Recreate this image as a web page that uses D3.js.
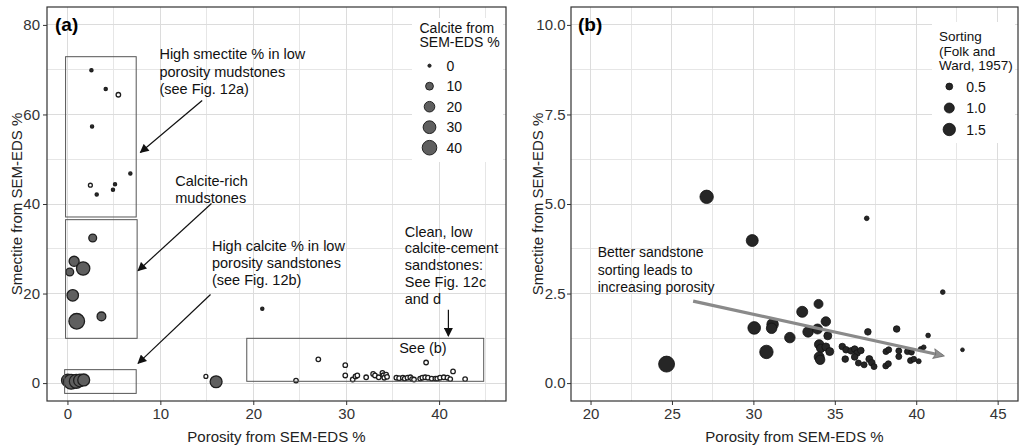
<!DOCTYPE html>
<html>
<head>
<meta charset="utf-8">
<script src="https://cdnjs.cloudflare.com/ajax/libs/d3/7.8.5/d3.min.js"></script>
<style>
  body { margin: 0; background: #fff; }
  svg { display: block; font-family: "Liberation Sans", Arial, sans-serif; }
  .grid line { stroke: #dcdcdc; shape-rendering: crispEdges; }
  .grid line.minor { stroke: #e6e6e6; }
  .axis text { font-size: 15px; fill: #333; }
  .axis line { stroke: #333; }
  .note { font-size: 14.5px; fill: #111; }
</style>
</head>
<body>
<div id="chart"></div>
<script>
// Panel (a): porosity vs smectite, sized by calcite (all from SEM-EDS, %)
var aPorosity = [2.58, 4.12, 5.48, 2.65, 6.77, 2.47, 5.12, 4.9, 3.15,
  2.72, 0.72, 1.69, 0.25, 0.57, 1.0, 3.66,
  0.05, 0.4, 0.95, 1.35, 1.75, 14.9, 16.0, 20.97,
  24.6, 27.0, 29.9, 29.9, 30.7, 31.0, 31.2, 32.15, 32.9, 33.1, 33.5, 33.9, 34.0, 34.1, 34.3, 34.4,
  35.4, 35.7, 36.1, 36.3, 36.6, 36.9, 37.1, 37.3, 37.96, 38.2, 38.5, 38.8, 38.6,
  39.2, 39.6, 39.8, 40.1, 40.5, 40.9, 41.2, 41.5, 42.8];
var aSmectite = [69.9, 65.7, 64.4, 57.3, 46.8, 44.2, 44.4, 43.2, 42.1,
  32.4, 27.2, 25.6, 24.8, 19.6, 13.8, 14.9,
  0.6, 0.3, 0.4, 0.6, 0.7, 1.5, 0.3, 16.6,
  0.56, 5.3, 4.0, 1.7, 0.8, 1.5, 1.7, 1.3, 2.05, 1.7, 1.3, 2.3, 1.75, 1.2, 1.9, 1.4,
  1.2, 1.1, 1.2, 1.0, 1.2, 1.3, 0.9, 0.8, 1.0, 1.2, 1.3, 1.2, 4.6,
  1.0, 1.0, 1.0, 1.2, 1.3, 1.2, 0.9, 2.6, 0.9];
var aCalcite = [0, 0, 2, 0, 0, 1, 0, 0, 0,
  10, 18, 33, 10, 24, 46, 13,
  30, 42, 36, 30, 26, 1, 26, 0,
  2, 2, 2, 2, 2, 2, 2, 2, 2, 2, 2, 2, 2, 2, 2, 2,
  2, 2, 2, 2, 2, 2, 2, 2, 2, 2, 2, 2, 2,
  2, 2, 2, 2, 2, 2, 2, 2, 2];
var calciteLegend = [0, 10, 20, 30, 40];

// Panel (b): sandstones only, sized by sorting (Folk and Ward, 1957)
var bPorosity = [24.67, 27.13, 29.93, 30.05, 30.8, 31.18, 31.12, 32.24, 33.0, 33.36,
  34.0, 33.94, 34.45, 34.57, 34.04, 34.14, 34.45, 34.69, 34.04, 34.1,
  35.46, 35.69, 36.0, 36.22, 36.37, 36.6, 35.64, 36.22, 37.03, 36.45,
  36.8, 37.12, 37.27, 37.41, 38.14, 38.31, 38.13, 38.29, 38.8, 38.93,
  38.93, 39.46, 39.71, 39.65, 39.85, 40.15, 40.28, 40.46, 40.73, 41.63, 42.84, 36.96];
var bSmectite = [0.53, 5.2, 3.98, 1.54, 0.87, 1.64, 1.53, 1.27, 1.99, 1.43,
  2.21, 1.51, 1.72, 1.32, 1.08, 0.97, 1.01, 0.88, 0.73, 0.65,
  1.02, 0.93, 0.9, 0.95, 0.84, 0.91, 0.67, 0.73, 1.43, 0.56,
  0.51, 0.67, 0.57, 0.46, 0.88, 0.93, 0.48, 0.54, 1.51, 0.9,
  0.74, 0.88, 0.86, 0.63, 0.67, 0.61, 0.95, 1.0, 1.33, 2.54, 0.93, 4.6];
var bSorting = [2.45, 1.75, 1.4, 1.55, 1.75, 1.3, 1.1, 1.1, 1.2, 1.1,
  0.82, 1.0, 0.9, 0.66, 0.9, 0.75, 0.66, 0.66, 1.0, 0.9,
  0.47, 0.47, 0.47, 0.47, 0.47, 0.47, 0.47, 0.47, 0.47, 0.4,
  0.4, 0.52, 0.47, 0.4, 0.4, 0.4, 0.4, 0.4, 0.47, 0.4,
  0.4, 0.4, 0.36, 0.4, 0.36, 0.3, 0.3, 0.27, 0.27, 0.27, 0.2, 0.27];
var sortingLegend = [0.5, 1.0, 1.5];

var W = 1021, H = 446;
var svg = d3.select('#chart').append('svg')
  .attr('width', W)
  .attr('height', H);

var defs = svg.append('defs');
defs.append('marker')
    .attr('id', 'head-black')
    .attr('markerUnits', 'userSpaceOnUse')
    .attr('viewBox', '0 0 10 10')
    .attr('refX', 9).attr('refY', 5)
    .attr('markerWidth', 10).attr('markerHeight', 9)
    .attr('orient', 'auto')
  .append('path')
    .attr('d', 'M0,0L10,5L0,10z')
    .attr('fill', '#111');
defs.append('marker')
    .attr('id', 'head-grey')
    .attr('markerUnits', 'userSpaceOnUse')
    .attr('viewBox', '0 0 10 10')
    .attr('refX', 8).attr('refY', 5)
    .attr('markerWidth', 14).attr('markerHeight', 11)
    .attr('orient', 'auto')
  .append('path')
    .attr('d', 'M0,0.5L10,5L0,9.5L2,5z')
    .attr('fill', '#8f8f8f')
    .attr('stroke', '#666')
    .attr('stroke-width', 0.6);

function panel(box, xDom, yDom, xMajor, xMinor, yMajor, yMinor, yFmt, yPad) {
  var x = d3.scaleLinear().domain(xDom).range([box.left, box.right]);
  var y = d3.scaleLinear().domain(yDom).range([box.bottom, box.top]);

  var grid = svg.append('g').attr('class', 'grid');
  grid.selectAll('.vmin').data(xMinor).enter().append('line')
      .attr('class', 'minor')
      .attr('x1', function(d) { return x(d); }).attr('x2', function(d) { return x(d); })
      .attr('y1', box.top).attr('y2', box.bottom);
  grid.selectAll('.hmin').data(yMinor).enter().append('line')
      .attr('class', 'minor')
      .attr('y1', function(d) { return y(d); }).attr('y2', function(d) { return y(d); })
      .attr('x1', box.left).attr('x2', box.right);
  grid.selectAll('.vmaj').data(xMajor).enter().append('line')
      .attr('x1', function(d) { return x(d); }).attr('x2', function(d) { return x(d); })
      .attr('y1', box.top).attr('y2', box.bottom);
  grid.selectAll('.hmaj').data(yMajor).enter().append('line')
      .attr('y1', function(d) { return y(d); }).attr('y2', function(d) { return y(d); })
      .attr('x1', box.left).attr('x2', box.right);

  var xAxis = d3.axisBottom(x).tickValues(xMajor).tickSize(4).tickPadding(3);
  var yAxis = d3.axisLeft(y).tickValues(yMajor).tickSize(4).tickPadding(yPad).tickFormat(yFmt);

  svg.append('g')
      .attr('class', 'axis')
      .attr('transform', 'translate(0,' + box.bottom + ')')
      .call(xAxis)
      .call(function(g) { g.select('.domain').remove(); });
  svg.append('g')
      .attr('class', 'axis')
      .attr('transform', 'translate(' + box.left + ',0)')
      .call(yAxis)
      .call(function(g) { g.select('.domain').remove(); });

  return {x: x, y: y};
}

function frame(box) {
  svg.append('rect')
      .attr('x', box.left).attr('y', box.top)
      .attr('width', box.right - box.left).attr('height', box.bottom - box.top)
      .attr('fill', 'none')
      .attr('stroke', '#333')
      .attr('stroke-width', 1.2);
}

function titles(box, xt, yt, yx) {
  svg.append('text')
      .attr('x', (box.left + box.right) / 2)
      .attr('y', 441.5)
      .attr('text-anchor', 'middle')
      .style('font-size', '15px')
      .style('fill', '#222')
      .text(xt);
  svg.append('text')
      .attr('transform', 'translate(' + yx + ',' + (box.top + box.bottom) / 2 + ') rotate(-90)')
      .attr('text-anchor', 'middle')
      .style('font-size', '15px')
      .style('fill', '#222')
      .text(yt);
}

function multiline(x, y, lines, lh, cls) {
  var t = svg.append('text').attr('class', cls || 'note');
  lines.forEach(function(l, i) {
    t.append('tspan').attr('x', x).attr('y', y + i * lh).text(l);
  });
  return t;
}

// ---------- panel (a)
var boxA = {left: 47, right: 506, top: 7, bottom: 401};
var a = panel(boxA, [-2.2, 47.2], [-4, 84],
  [0, 10, 20, 30, 40], [5, 15, 25, 35, 45],
  [0, 20, 40, 60, 80], [10, 30, 50, 70], d3.format('d'), 3);

var calciteSize = d3.scaleRadial().domain([0, 40]).range([1.6, 7.3]);
// calcite-free dots read dark, trace calcite as open rings, cemented as grey
var calciteFill = d3.scaleThreshold().domain([0.5, 5]).range(['#2a2a2a', '#fff', '#5f5f5f']);

// legend background covers the grid
svg.append('rect').attr('x', 412).attr('y', 18).attr('width', 91).attr('height', 144).attr('fill', '#fff');
multiline(419.5, 33, ['Calcite from', 'SEM-EDS %'], 14, 'note').style('font-size', '14px');
var legA = svg.append('g').selectAll('g').data(calciteLegend).enter().append('g')
    .attr('transform', function(d, i) { return 'translate(429.5,' + (65.7 + i * 20.5) + ')'; });
legA.append('circle')
    .attr('r', function(d) { return calciteSize(d); })
    .attr('fill', function(d) { return calciteFill(d); })
    .attr('stroke', '#222').attr('stroke-width', 1);
legA.append('text')
    .attr('x', 17).attr('dy', '0.36em')
    .style('font-size', '14px').style('fill', '#111')
    .text(function(d) { return d; });

var pointsA = aPorosity.map(function(p, i) {
  return {p: p, s: aSmectite[i], c: aCalcite[i]};
});
svg.append('g').selectAll('circle').data(pointsA).enter().append('circle')
    .attr('cx', function(d) { return a.x(d.p); })
    .attr('cy', function(d) { return a.y(d.s); })
    .attr('r', function(d) { return calciteSize(d.c); })
    .attr('fill', function(d) { return calciteFill(d.c); })
    .attr('stroke', '#1e1e1e')
    .attr('stroke-width', 1.3);

// boxes around groups
var groupBoxes = [
  {x0: -0.2, x1: 7.4, y0: 37.1, y1: 72.9},
  {x0: -0.2, x1: 7.5, y0: 10.0, y1: 36.5},
  {x0: -0.3, x1: 7.4, y0: -2.3, y1: 3.0},
  {x0: 19.3, x1: 44.8, y0: 0.4, y1: 10.0}
];
svg.append('g').selectAll('rect').data(groupBoxes).enter().append('rect')
    .attr('x', function(d) { return a.x(d.x0); })
    .attr('y', function(d) { return a.y(d.y1); })
    .attr('width', function(d) { return a.x(d.x1) - a.x(d.x0); })
    .attr('height', function(d) { return a.y(d.y0) - a.y(d.y1); })
    .attr('fill', 'none')
    .attr('stroke', '#555')
    .attr('stroke-width', 1);

var arrowsA = [
  {x0: 14.5, y0: 63.1, x1: 7.85, y1: 51.5},
  {x0: 15.5, y0: 40.1, x1: 7.6, y1: 25.1},
  {x0: 15.4, y0: 19.8, x1: 7.6, y1: 4.4},
  {x0: 41.0, y0: 16.4, x1: 41.0, y1: 10.5}
];
svg.append('g').selectAll('line').data(arrowsA).enter().append('line')
    .attr('x1', function(d) { return a.x(d.x0); })
    .attr('y1', function(d) { return a.y(d.y0); })
    .attr('x2', function(d) { return a.x(d.x1); })
    .attr('y2', function(d) { return a.y(d.y1); })
    .attr('stroke', '#111')
    .attr('stroke-width', 1.2)
    .attr('marker-end', 'url(#head-black)');

multiline(a.x(9.9), a.y(72.3), ['High smectite % in low', 'porosity mudstones', '(see Fig. 12a)'], 17.5);
multiline(a.x(11.6), a.y(44.1), ['Calcite-rich', 'mudstones'], 17);
multiline(a.x(15.55), a.y(29.4), ['High calcite % in low', 'porosity sandstones', '(see Fig. 12b)'], 17);
multiline(a.x(36.3), a.y(32.7), ['Clean, low', 'calcite-cement', 'sandstones:', 'See Fig. 12c', 'and d'], 16.8);
multiline(a.x(35.7), a.y(6.75), ['See (b)'], 17);

frame(boxA);
titles(boxA, 'Porosity from SEM-EDS %', 'Smectite from SEM-EDS %', 21.5);
svg.append('text')
    .attr('x', 55).attr('y', 31)
    .style('font-size', '19px').style('font-weight', 'bold')
    .text('(a)');

// ---------- panel (b)
var boxB = {left: 571, right: 1018, top: 7, bottom: 401};
var b = panel(boxB, [18.8, 46.25], [-0.5, 10.5],
  [20, 25, 30, 35, 40, 45], [22.5, 27.5, 32.5, 37.5, 42.5],
  [0, 2.5, 5, 7.5, 10], [1.25, 3.75, 6.25, 8.75], d3.format('.1f'), 1.5);

var sortSize = d3.scaleRadial().domain([0.2, 1.5]).range([1.9, 6.2]);

svg.append('rect').attr('x', 932).attr('y', 22).attr('width', 83).attr('height', 121).attr('fill', '#fff');
multiline(939, 41, ['Sorting', '(Folk and', 'Ward, 1957)'], 14.5, 'note').style('font-size', '13.5px');
var legB = svg.append('g').selectAll('g').data(sortingLegend).enter().append('g')
    .attr('transform', function(d, i) { return 'translate(949.3,' + (86.5 + i * 21.5) + ')'; });
legB.append('circle')
    .attr('r', function(d) { return sortSize(d); })
    .attr('fill', '#262626')
    .attr('stroke', '#111').attr('stroke-width', 0.8);
legB.append('text')
    .attr('x', 17).attr('dy', '0.36em')
    .style('font-size', '14px').style('fill', '#111')
    .text(function(d) { return d3.format('.1f')(d); });

var pointsB = bPorosity.map(function(p, i) {
  return {p: p, s: bSmectite[i], so: bSorting[i]};
});
svg.append('g').selectAll('circle').data(pointsB).enter().append('circle')
    .attr('cx', function(d) { return b.x(d.p); })
    .attr('cy', function(d) { return b.y(d.s); })
    .attr('r', function(d) { return sortSize(d.so); })
    .attr('fill', '#262626')
    .attr('stroke', '#111')
    .attr('stroke-width', 0.8);

// trend arrow
svg.append('line')
    .attr('x1', b.x(26.3)).attr('y1', b.y(2.29))
    .attr('x2', b.x(41.6)).attr('y2', b.y(0.77))
    .attr('stroke', '#8a8a8a')
    .attr('stroke-width', 3.2)
    .attr('marker-end', 'url(#head-grey)');

multiline(b.x(20.44), b.y(3.52), ['Better sandstone', 'sorting leads to', 'increasing porosity'], 17.5).style('font-size', '14px');

frame(boxB);
titles(boxB, 'Porosity from SEM-EDS %', 'Smectite from SEM-EDS %', 543);
svg.append('text')
    .attr('x', 578).attr('y', 31)
    .style('font-size', '19px').style('font-weight', 'bold')
    .text('(b)');
</script>
</body>
</html>
